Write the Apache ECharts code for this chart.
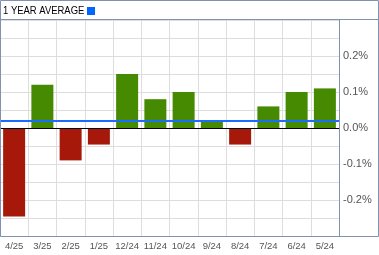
<!DOCTYPE html>
<html>
<head>
<meta charset="utf-8">
<script src="https://cdn.jsdelivr.net/npm/echarts@6/dist/echarts.min.js"></script>
<style>
html,body{margin:0;padding:0;background:#fff;}
#c{width:379px;height:255px;}
</style>
</head>
<body>
<div id="c"></div>
<script>
var categories = ['4/25','3/25','2/25','1/25','12/24','11/24','10/24','9/24','8/24','7/24','6/24','5/24'];
var values = [-0.246, 0.12, -0.09, -0.046, 0.15, 0.08, 0.10, 0.02, -0.046, 0.06, 0.10, 0.11];
var average = 0.022;
var yTicks = [-0.2, -0.1, 0.0, 0.1, 0.2];

var chart = echarts.init(document.getElementById('c'), null, {renderer: 'canvas'});
var border = '#7f93b0';
var font = 'Liberation Sans, Arial, sans-serif';
chart.setOption({
  animation: false,
  grid: {left: 0, right: 40, top: 20, bottom: 19},
  xAxis: {
    type: 'category',
    data: categories,
    boundaryGap: true,
    axisLine: {show: false},
    axisTick: {show: false},
    axisLabel: {color: '#555', fontSize: 9.5, fontFamily: font, margin: 5, interval: 0},
    splitLine: {show: true, interval: 0, lineStyle: {color: '#dddddd', width: 1}}
  },
  yAxis: {
    type: 'value',
    position: 'right',
    min: -0.3, max: 0.3, interval: 0.05,
    axisLine: {show: false},
    axisTick: {show: false},
    splitLine: {show: true, lineStyle: {color: '#dddddd', width: 1}},
    axisLabel: {
      color: '#555', fontSize: 11, fontFamily: font, margin: 4,
      formatter: function (v) {
        var k = Math.round(v * 100);
        for (var i = 0; i < yTicks.length; i++) {
          if (Math.round(yTicks[i] * 100) === k) return yTicks[i].toFixed(1) + '%';
        }
        return '';
      }
    }
  },
  series: [{
    type: 'bar',
    data: values,
    barWidth: 22,
    itemStyle: {
      color: function (p) { return p.value >= 0 ? '#458a00' : '#a6190a'; }
    },
    markLine: {
      silent: true,
      symbol: 'none',
      label: {show: false},
      z: 5,
      data: [
        {yAxis: 0, lineStyle: {color: '#000', width: 1, type: 'solid'}},
        {yAxis: average, lineStyle: {color: '#1a6cff', width: 2, type: 'solid'}}
      ]
    }
  }],
  graphic: [
    {type: 'rect', z: 100, shape: {x: 0.5, y: 0.5, width: 378, height: 236}, style: {fill: null, stroke: border, lineWidth: 1}},
    {type: 'line', z: 100, shape: {x1: 0, y1: 19.5, x2: 379, y2: 19.5}, style: {stroke: border, lineWidth: 1}},
    {type: 'line', z: 100, shape: {x1: 339.5, y1: 20, x2: 339.5, y2: 237}, style: {stroke: border, lineWidth: 1}},
    {type: 'text', z: 100, x: 3, y: 5, scaleX: 0.86, style: {text: '1 YEAR AVERAGE', fill: '#000', font: '11px ' + font}},
    {type: 'rect', z: 100, shape: {x: 87, y: 7, width: 8, height: 8}, style: {fill: '#0066ff'}}
  ]
});
</script>
</body>
</html>
